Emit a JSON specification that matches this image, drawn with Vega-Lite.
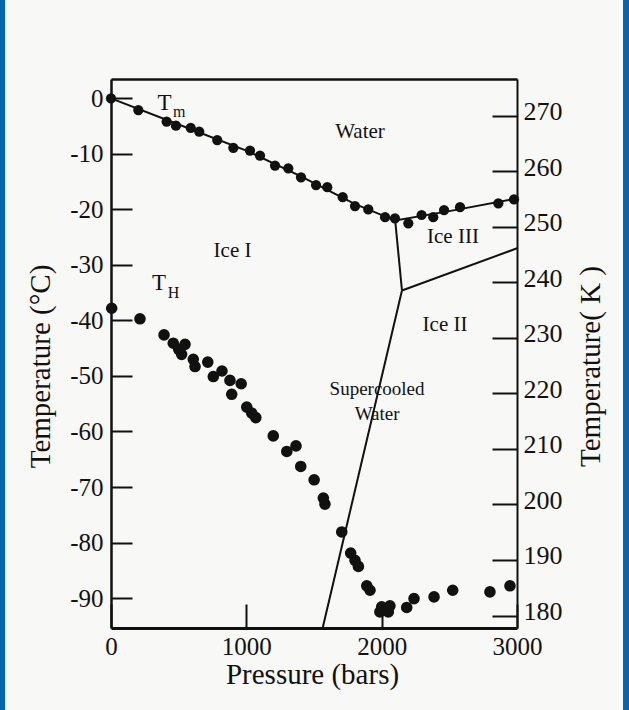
{
  "$schema": "https://vega.github.io/schema/vega-lite/v6.json",
  "width": 406,
  "height": 549,
  "autosize": {"type": "none"},
  "padding": {"left": 111, "top": 79, "right": 112, "bottom": 82},
  "background": "#0664b1",
  "config": {
    "view": {"fill": "#f8f8f6", "stroke": "#f8f8f6", "strokeWidth": 212},
    "font": "Liberation Serif"
  },
  "datasets": {
    "tm": [
      {"p": 0, "t": 0}, {"p": 202, "t": -2.1}, {"p": 411, "t": -4.2}, {"p": 480, "t": -4.9},
      {"p": 589, "t": -5.3}, {"p": 652, "t": -6.0}, {"p": 785, "t": -7.5}, {"p": 904, "t": -8.9},
      {"p": 1027, "t": -9.4}, {"p": 1101, "t": -10.3}, {"p": 1212, "t": -12.1}, {"p": 1310, "t": -12.6},
      {"p": 1404, "t": -14.2}, {"p": 1515, "t": -15.6}, {"p": 1598, "t": -16.0}, {"p": 1712, "t": -17.8},
      {"p": 1803, "t": -19.4}, {"p": 1901, "t": -20.0}, {"p": 2025, "t": -21.4}, {"p": 2098, "t": -21.6},
      {"p": 2197, "t": -22.5}, {"p": 2295, "t": -21.0}, {"p": 2381, "t": -21.4}, {"p": 2461, "t": -20.1},
      {"p": 2579, "t": -19.6}, {"p": 2862, "t": -18.9}, {"p": 2978, "t": -18.2}
    ],
    "th": [
      {"p": 5, "t": -37.8}, {"p": 214, "t": -39.7}, {"p": 392, "t": -42.6}, {"p": 460, "t": -44.1},
      {"p": 500, "t": -45.2}, {"p": 547, "t": -44.3}, {"p": 522, "t": -46.1}, {"p": 608, "t": -47.0},
      {"p": 621, "t": -48.3}, {"p": 715, "t": -47.5}, {"p": 756, "t": -50.1}, {"p": 820, "t": -49.1},
      {"p": 879, "t": -50.8}, {"p": 892, "t": -53.3}, {"p": 962, "t": -51.4}, {"p": 1003, "t": -55.6},
      {"p": 1040, "t": -56.7}, {"p": 1070, "t": -57.5}, {"p": 1199, "t": -60.8}, {"p": 1299, "t": -63.6},
      {"p": 1367, "t": -62.6}, {"p": 1402, "t": -66.3}, {"p": 1501, "t": -68.7}, {"p": 1569, "t": -72.0},
      {"p": 1581, "t": -73.1}, {"p": 1705, "t": -78.1}, {"p": 1771, "t": -81.9}, {"p": 1803, "t": -83.2},
      {"p": 1828, "t": -84.3}, {"p": 1890, "t": -87.8}, {"p": 1914, "t": -88.6}, {"p": 1987, "t": -92.5},
      {"p": 2000, "t": -91.6}, {"p": 2049, "t": -92.5}, {"p": 2061, "t": -91.4}, {"p": 2185, "t": -91.7},
      {"p": 2239, "t": -90.1}, {"p": 2387, "t": -89.8}, {"p": 2525, "t": -88.6}, {"p": 2800, "t": -88.9},
      {"p": 2948, "t": -87.8}
    ],
    "lines": [
      {"seg": "tm", "i": 0, "p": 0, "t": 0}, {"seg": "tm", "i": 1, "p": 500, "t": -4.7},
      {"seg": "tm", "i": 2, "p": 1000, "t": -9.4}, {"seg": "tm", "i": 3, "p": 1400, "t": -14.0},
      {"seg": "tm", "i": 4, "p": 1800, "t": -19.0}, {"seg": "tm", "i": 5, "p": 2100, "t": -22.0},
      {"seg": "tm", "i": 6, "p": 2500, "t": -20.3}, {"seg": "tm", "i": 7, "p": 3000, "t": -18.0},
      {"seg": "i13", "i": 0, "p": 2100, "t": -22.0}, {"seg": "i13", "i": 1, "p": 2150, "t": -34.6},
      {"seg": "i23", "i": 0, "p": 2150, "t": -34.6}, {"seg": "i23", "i": 1, "p": 3000, "t": -27.0},
      {"seg": "sc", "i": 0, "p": 2150, "t": -34.6}, {"seg": "sc", "i": 1, "p": 1564, "t": -95.4}
    ],
    "labels": [
      {"p": 1840, "t": -6.0, "label": "Water"},
      {"p": 898, "t": -27.4, "label": "Ice I"},
      {"p": 2527, "t": -25.0, "label": "Ice III"},
      {"p": 2468, "t": -40.8, "label": "Ice II"}
    ],
    "sc": [
      {"p": 1966, "t": -52.4, "label": "Supercooled"},
      {"p": 1966, "t": -56.9, "label": "Water"}
    ],
    "big": [
      {"p": 395, "t": -0.8, "label": "T"},
      {"p": 355, "t": -33.3, "label": "T"}
    ],
    "sub": [
      {"p": 505, "t": -2.5, "label": "m"},
      {"p": 462, "t": -35.1, "label": "H"}
    ]
  },
  "layer": [
    {
      "data": {"name": "lines"},
      "mark": {"type": "line", "color": "#111111", "strokeWidth": 2},
      "encoding": {
        "x": {
          "field": "p", "type": "quantitative",
          "scale": {"domain": [0, 3000], "nice": false, "zero": false},
          "axis": {
            "orient": "bottom", "values": [0, 1000, 2000, 3000], "format": "d",
            "grid": false, "domainColor": "#111111", "domainWidth": 3,
            "tickColor": "#111111", "tickWidth": 2, "tickSize": -24,
            "labelFont": "Liberation Serif", "labelFontSize": 25, "labelColor": "#111111",
            "labelPadding": 30, "labelFlush": false, "labelOverlap": false,
            "title": "Pressure (bars)", "titleFont": "Liberation Serif", "titleFontSize": 29,
            "titleFontWeight": "normal", "titleColor": "#111111",
            "titleX": 201, "titleY": 55, "titleAlign": "center", "titleBaseline": "alphabetic"
          }
        },
        "y": {
          "field": "t", "type": "quantitative",
          "scale": {"domain": [-95.4, 3.5], "nice": false, "zero": false},
          "axis": {
            "orient": "left", "values": [0, -10, -20, -30, -40, -50, -60, -70, -80, -90],
            "labelExpr": "'' + datum.value",
            "grid": false, "domainColor": "#111111", "domainWidth": 2.5,
            "tickColor": "#111111", "tickWidth": 2, "tickSize": -21,
            "labelFont": "Liberation Serif", "labelFontSize": 25, "labelColor": "#111111",
            "labelPadding": 29, "labelFlush": false, "labelOverlap": false, "labelBaseline": "middle",
            "title": "Temperature (°C)", "titleFont": "Liberation Serif", "titleFontSize": 29,
            "titleFontWeight": "normal", "titleColor": "#111111",
            "titleX": -71, "titleY": 287, "titleAngle": 270, "titleAlign": "center", "titleBaseline": "middle"
          }
        },
        "detail": {"field": "seg"},
        "order": {"field": "i"}
      }
    },
    {
      "data": {"name": "tm"},
      "mark": {"type": "circle", "color": "#111111", "size": 105, "opacity": 1},
      "encoding": {
        "x": {
          "field": "p", "type": "quantitative",
          "scale": {"domain": [0, 3000], "nice": false, "zero": false},
          "axis": {
            "orient": "top", "grid": false, "ticks": false, "labels": false, "title": null,
            "domainColor": "#111111", "domainWidth": 2.5
          }
        },
        "y": {
          "field": "t", "type": "quantitative",
          "scale": {"domain": [-95.4, 3.5], "nice": false, "zero": false},
          "axis": {
            "orient": "right",
            "values": [-93.15, -83.15, -73.15, -63.15, -53.15, -43.15, -33.15, -23.15, -13.15, -3.15],
            "labelExpr": "'' + round(datum.value + 273.15)",
            "grid": false, "domainColor": "#111111", "domainWidth": 2,
            "tickColor": "#111111", "tickWidth": 2, "tickSize": -25,
            "labelFont": "Liberation Serif", "labelFontSize": 26, "labelColor": "#111111",
            "labelPadding": 31, "labelFlush": false, "labelOverlap": false, "labelBaseline": "middle",
            "labelOffset": -4,
            "title": "Temperature( K )", "titleFont": "Liberation Serif", "titleFontSize": 29,
            "titleFontWeight": "normal", "titleColor": "#111111",
            "titleX": 73, "titleY": 287, "titleAngle": 270, "titleAlign": "center", "titleBaseline": "middle"
          }
        }
      }
    },
    {
      "data": {"name": "th"},
      "mark": {"type": "circle", "color": "#111111", "size": 135, "opacity": 1},
      "encoding": {
        "x": {"field": "p", "type": "quantitative", "axis": null},
        "y": {"field": "t", "type": "quantitative", "axis": null}
      }
    },
    {
      "data": {"name": "labels"},
      "mark": {"type": "text", "font": "Liberation Serif", "fontSize": 21, "color": "#111111", "align": "center", "baseline": "middle"},
      "encoding": {
        "x": {"field": "p", "type": "quantitative", "axis": null},
        "y": {"field": "t", "type": "quantitative", "axis": null},
        "text": {"field": "label"}
      }
    },
    {
      "data": {"name": "sc"},
      "mark": {"type": "text", "font": "Liberation Serif", "fontSize": 19, "color": "#111111", "align": "center", "baseline": "middle"},
      "encoding": {
        "x": {"field": "p", "type": "quantitative", "axis": null},
        "y": {"field": "t", "type": "quantitative", "axis": null},
        "text": {"field": "label"}
      }
    },
    {
      "data": {"name": "big"},
      "mark": {"type": "text", "font": "Liberation Serif", "fontSize": 23, "color": "#111111", "align": "center", "baseline": "middle"},
      "encoding": {
        "x": {"field": "p", "type": "quantitative", "axis": null},
        "y": {"field": "t", "type": "quantitative", "axis": null},
        "text": {"field": "label"}
      }
    },
    {
      "data": {"name": "sub"},
      "mark": {"type": "text", "font": "Liberation Serif", "fontSize": 16, "color": "#111111", "align": "center", "baseline": "middle"},
      "encoding": {
        "x": {"field": "p", "type": "quantitative", "axis": null},
        "y": {"field": "t", "type": "quantitative", "axis": null},
        "text": {"field": "label"}
      }
    }
  ],
  "resolve": {"axis": {"x": "independent", "y": "independent"}}
}
